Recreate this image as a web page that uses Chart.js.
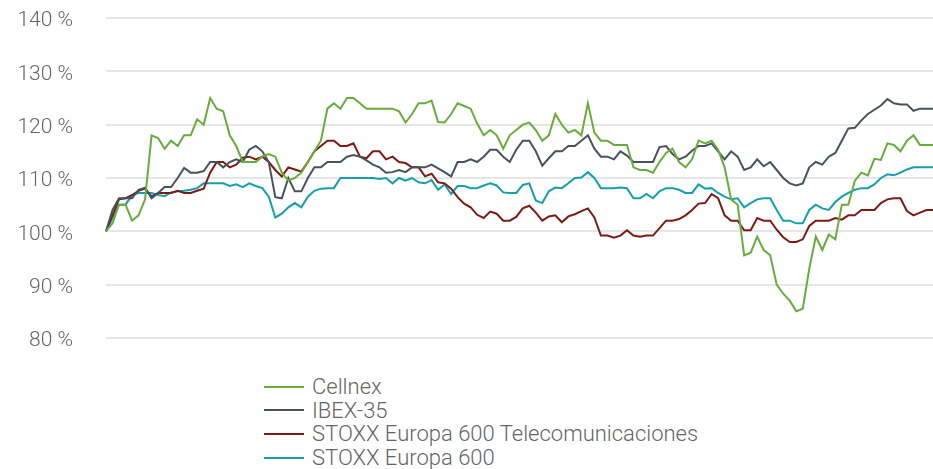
<!DOCTYPE html>
<html>
<head>
<meta charset="utf-8">
<script src="https://cdn.jsdelivr.net/npm/chart.js@4"></script>
<style>
  html, body { margin: 0; padding: 0; background: #fff; }
  body { width: 933px; height: 469px; position: relative; overflow: hidden; font-family: Roboto, "Liberation Sans", sans-serif; font-weight: 300; }
  #wrap { position: absolute; left: 0; top: 0; width: 933px; height: 360px; }
  #legend { position: absolute; left: 264px; top: 375px; color: #666; font-size: 22px; }
  #legend .item { height: 23.6px; line-height: 23.6px; display: flex; align-items: center; white-space: nowrap; }
  #legend .swatch { width: 40px; height: 2px; margin-right: 8px; }
</style>
</head>
<body>
<div id="wrap"><canvas id="myChart"></canvas></div>
<div id="legend"></div>
<script>
const seriesNames = ['Cellnex', 'IBEX-35', 'STOXX Europa 600 Telecomunicaciones', 'STOXX Europa 600'];
const colors = ['#66ad3a', '#46535f', '#7e1a14', '#14a0aa'];
const yTicks = [80, 90, 100, 110, 120, 130, 140];

const cellnex = [
    100, 101.5, 105, 105, 102, 103, 106, 118, 117.5, 115.5, 117, 116, 118, 118, 121, 120,
    125, 123, 122.5, 118, 116, 113, 113, 113, 114, 114.5, 114, 111, 109.5, 110, 111, 113,
    115, 117, 123, 124, 123, 125, 125, 124, 123, 123, 123, 123, 123, 122.5, 120.4, 122,
    124, 124, 124.5, 120.5, 120.4, 122, 124, 123.5, 123, 120.2, 118, 119, 118, 115.5,
    118, 119, 120, 120.4, 119, 117, 118, 122, 120, 118.5, 119, 118, 124, 118.5,
    117, 117, 116.2, 116.2, 116.2, 112, 111.5, 111.5, 111, 113, 114.7, 115.5, 113, 112,
    113.5, 117, 116.5, 117, 115.3, 112, 106, 105, 95.5, 96, 99, 96.5, 95.5, 90,
    88.3, 87, 85, 85.5, 93, 99, 96.5, 99.4, 98.5, 105, 105, 109.5, 111, 110.5,
    113.6, 113.4, 116.5, 116.2, 115, 117, 118, 116.2, 116.2, 116.2
];
const ibex = [
    100, 104, 106.2, 106.2, 106.2, 107.8, 108.2, 106.2, 107.2, 108.3, 108.3, 110, 111.9, 111, 111, 111.3,
    113, 113, 112, 113, 113.5, 113, 115.3, 116, 115, 113, 106.4, 106.2, 110, 107.5, 107.5, 110,
    112, 112, 113, 113, 113, 114, 114.3, 114, 113.3, 112.5, 112, 111, 111.1, 111.5, 111.1, 112,
    112, 112, 112.5, 111.8, 111.1, 110.3, 113, 113, 113.5, 113, 114, 115.3, 115.3, 114,
    113, 115.3, 117, 117, 115, 112.3, 113.7, 115, 115, 116, 116, 117, 118, 115.5,
    114, 114, 113.5, 115, 114.2, 113, 113, 113, 113, 115.8, 116, 114.5, 113.5, 114,
    115.1, 116, 116, 116.5, 115, 113.5, 115, 114, 111.5, 112, 113.5, 112.2, 113, 111.5,
    110, 109, 108.6, 109, 112, 113, 112.5, 114, 114.7, 117, 119.3, 119.4, 120.8, 122,
    122.8, 123.6, 124.8, 124, 123.8, 123.8, 122.6, 123, 123, 123
];
const telecom = [
    100, 103, 106, 106.2, 106.8, 107.6, 108, 106.5, 107.2, 107.2, 107.2, 107.6, 107.2, 107.2, 107.6, 108,
    111, 113, 113, 112, 112.5, 113.8, 114, 113.5, 114, 113, 111.5, 110.3, 112, 111.6, 111.2, 113,
    115, 116, 117, 117, 116, 116, 116.5, 114, 113.7, 115, 115, 113.5, 114, 113, 112.8, 112,
    112, 110.3, 110.8, 109.2, 109, 108, 106.4, 105.2, 104.5, 103.1, 102.5, 103.7, 103.3, 102,
    102, 102.7, 104.3, 104.8, 103.5, 102, 102.8, 103, 101.7, 102.8, 103.2, 103.8, 104.3, 102.6,
    99.2, 99.2, 98.8, 99.2, 100.2, 99.2, 99, 99.2, 99.2, 100.6, 102, 102, 102.3, 103,
    104, 105.2, 105.3, 107, 106.2, 103, 102, 102, 100.2, 100.2, 102.5, 102, 102, 100.3,
    98.9, 98, 98, 98.5, 101, 102, 102, 102, 102.5, 102.2, 103, 103, 104, 104,
    104, 105.3, 106, 106.2, 106.2, 103.8, 103, 103.5, 104, 104
];
const stoxx600 = [
    100, 102.5, 105, 105, 106.8, 107.2, 107.2, 107.2, 106.8, 106.6, 107.3, 107.5, 107.6, 107.8, 108.1, 109,
    109, 109, 109, 108.5, 108.8, 108.3, 109, 108.5, 108.1, 106.5, 102.6, 103.3, 104.5, 105.3, 104.5, 106.5,
    107.6, 108, 108.1, 108.1, 110, 110, 110, 110, 110, 110, 109.8, 110, 109, 110, 109.5, 110,
    109.2, 109, 109.6, 107.8, 108.8, 107, 108.5, 108.5, 108.1, 108.1, 108.6, 109, 108.6, 107.3,
    107.2, 107.2, 108.7, 109, 105.8, 105.3, 107.5, 108.2, 108.1, 109, 110, 110.1, 111.1, 110,
    108.1, 108.1, 108.1, 108.2, 108.1, 106.2, 106.2, 107, 106.2, 107.5, 108.1, 108.1, 107.8, 107.2,
    107.2, 108.8, 108, 108.1, 107.2, 106.5, 106, 106.2, 104.5, 105.3, 106, 106.2, 106.2, 104,
    102, 102, 101.5, 101.5, 104, 105, 104.3, 104, 105.5, 106.5, 107.2, 107.8, 108.1, 108.1,
    108.8, 110, 110.7, 110.5, 111, 111.6, 112, 112, 112, 112
];

// one label per observation, the x axis itself is not shown
const labels = cellnex.map((_, i) => String(i + 1));

const allSeries = [cellnex, ibex, telecom, stoxx600];

const data = {
    labels: labels,
    datasets: allSeries.map((values, i) => ({
        label: seriesNames[i],
        data: values,
        borderColor: colors[i],
        backgroundColor: colors[i],
        borderWidth: 2,
        pointRadius: 0,
        tension: 0,
    })),
};

const config = {
    type: 'line',
    data: data,
    options: {
        responsive: true,
        maintainAspectRatio: false,
        animation: false,
        layout: {
            padding: { top: 18, bottom: 22, left: 0, right: 0 }
        },
        plugins: {
            legend: { display: false },
            tooltip: { enabled: false }
        },
        scales: {
            x: {
                display: false,
                offset: false,
            },
            y: {
                min: 80,
                max: 140,
                afterFit: (scale) => {
                    scale.width = 106;
                    scale.paddingTop = 0;
                    scale.paddingBottom = 0;
                },
                afterBuildTicks: (scale) => {
                    scale.ticks = yTicks.map(v => ({ value: v }));
                },
                border: { display: false },
                grid: {
                    color: '#e6e6e6',
                    lineWidth: 2,
                    drawTicks: false,
                },
                ticks: {
                    padding: 33,
                    labelOffset: 3,
                    color: '#666',
                    font: { family: 'Roboto', weight: '300', size: 21 },
                    callback: (v) => v + ' %'
                }
            }
        }
    }
};

const chart = new Chart(
    document.getElementById('myChart'),
    config
);

// legend as a single column, like the original
const legendEl = document.getElementById('legend');
chart.data.datasets.forEach(ds => {
    const row = document.createElement('div');
    row.className = 'item';
    const sw = document.createElement('span');
    sw.className = 'swatch';
    sw.style.background = ds.borderColor;
    const txt = document.createElement('span');
    txt.textContent = ds.label;
    row.appendChild(sw);
    row.appendChild(txt);
    legendEl.appendChild(row);
});
</script>
</body>
</html>
